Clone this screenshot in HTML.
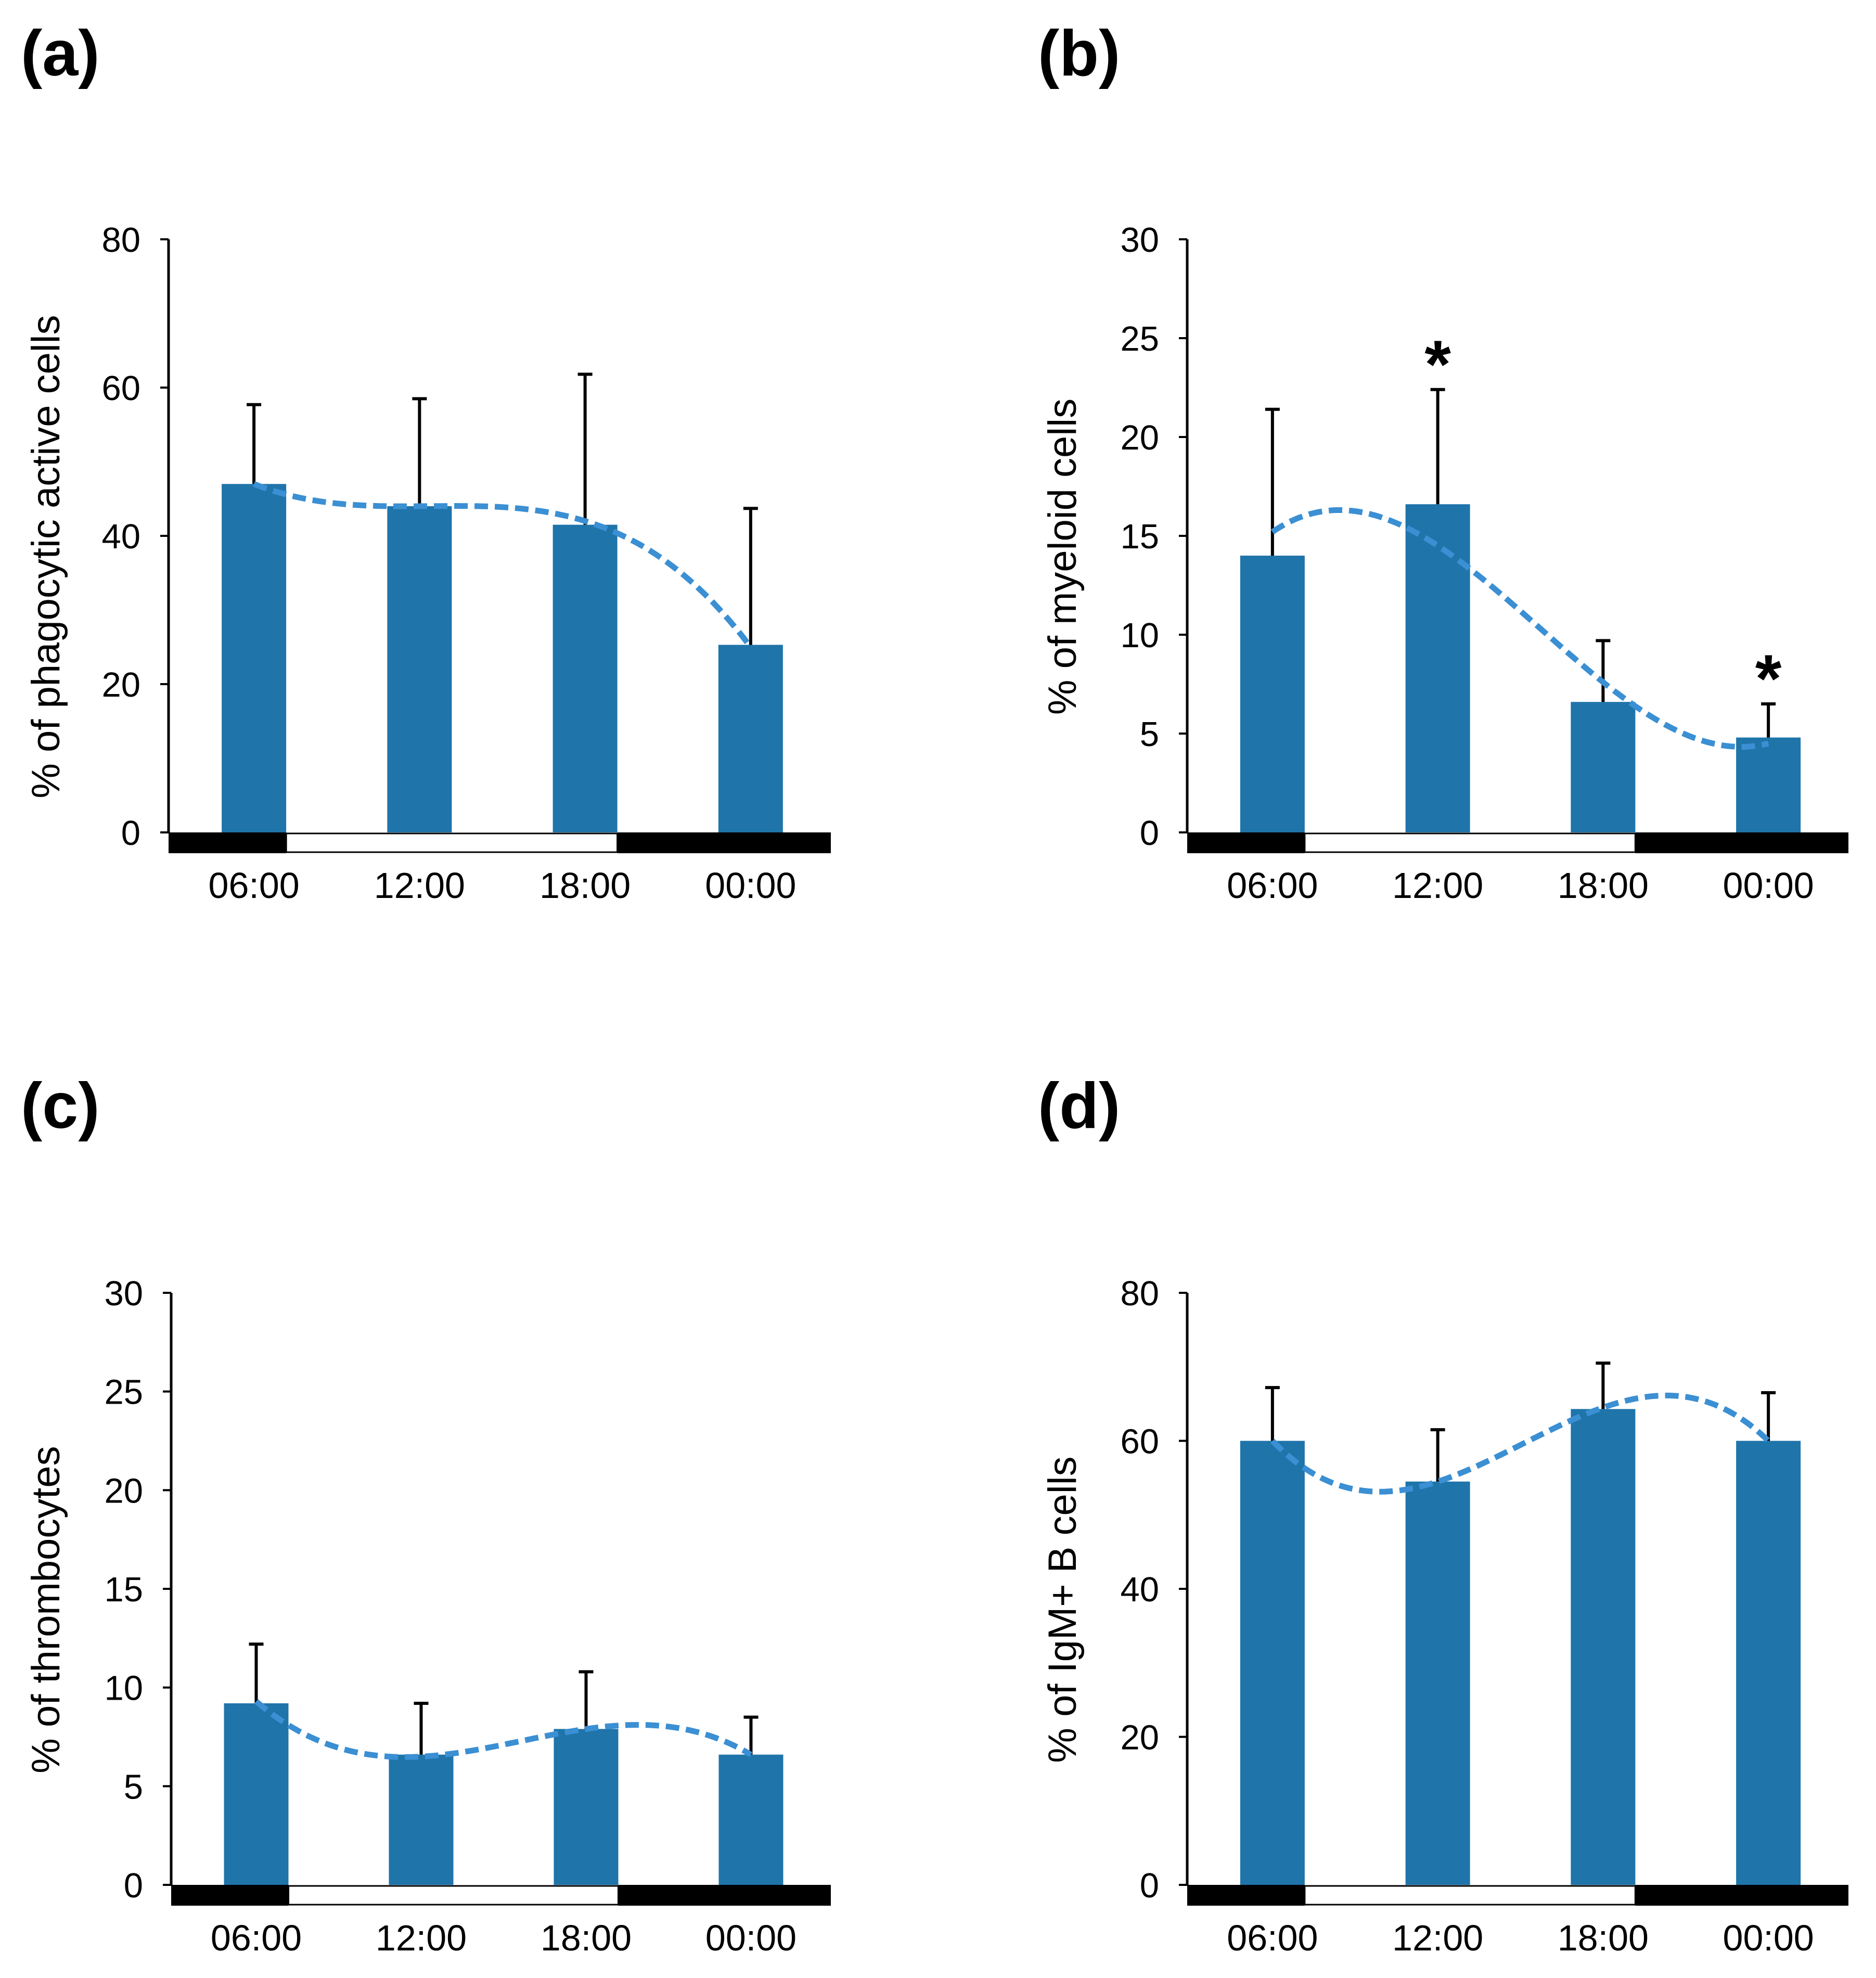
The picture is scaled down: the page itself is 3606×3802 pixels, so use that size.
<!DOCTYPE html>
<html><head><meta charset="utf-8"><style>
html,body{margin:0;padding:0;background:#fff;}
svg{display:block;font-family:"Liberation Sans",Arial,sans-serif;}
</style></head>
<body>
<svg id="fig" width="3606" height="3802" viewBox="0 0 3606 3802" xmlns="http://www.w3.org/2000/svg">
<rect width="3606" height="3802" fill="#fff"/>
</svg>
<script>
const categories = ["06:00","12:00","18:00","00:00"];
const valuesA = [47, 44, 41.5, 25.3];
const errTopA = [57.7, 58.5, 61.8, 43.7];
const trendA = [47, 44, 42, 25];
const valuesB = [14, 16.6, 6.6, 4.8];
const errTopB = [21.4, 22.4, 9.7, 6.5];
const trendB = [15.2, 14.5, 7.6, 4.5];
const valuesC = [9.2, 6.6, 7.9, 6.6];
const errTopC = [12.2, 9.2, 10.8, 8.5];
const trendC = [9.3, 6.5, 7.9, 6.6];
const valuesD = [60, 54.5, 64.3, 60];
const errTopD = [67.2, 61.5, 70.5, 66.5];
const trendD = [60, 54.5, 64.5, 60];
const ticksA = [0,20,40,60,80];
const ticksB = [0,5,10,15,20,25,30];
const ticksC = [0,5,10,15,20,25,30];
const ticksD = [0,20,40,60,80];
const starsB = [false, true, false, true];

const NS = "http://www.w3.org/2000/svg";
const svg = document.getElementById("fig");
function mk(tag, attrs, parent, text){
  const e = document.createElementNS(NS, tag);
  for (const k in attrs) e.setAttribute(k, attrs[k]);
  if (text !== undefined) e.textContent = text;
  (parent || svg).appendChild(e);
  return e;
}

function panel(cfg){
  const g = mk("g", {});
  
  
  const ax = cfg.ax, top = cfg.top, zero = cfg.zero, right = cfg.right;
  const maxV = cfg.ticks[cfg.ticks.length-1];
  const y = v => zero - (v / maxV) * (zero - top);
  const slot = (right - ax) / categories.length;
  const xc = i => ax + 5 + slot * (i + 0.5);
  const bw = 124;

  const lt = mk("text", {x: cfg.lx, y: cfg.ly, "font-size": 124, "font-weight": "bold"}, g, cfg.letter);
  
  

  const yl = mk("line", {x1: ax, y1: top, x2: ax, y2: zero, stroke: "#000", "stroke-width": 5}, g);
  
  
  cfg.ticks.forEach(t => {
    const tk = mk("line", {x1: ax-16, y1: y(t), x2: ax, y2: y(t), stroke: "#000", "stroke-width": 4}, g);
    
    
    const tl = mk("text", {x: ax-54, y: y(t)+24, "font-size": 67, "text-anchor": "end"}, g, String(t));
    
    
  });
  const cy = (top + zero) / 2 + 40;
  const yt = mk("text", {x: cfg.tx, y: cy, "font-size": 76, "text-anchor": "middle", transform: `rotate(-90 ${cfg.tx} ${cy})`}, g, cfg.title);
  
  

  cfg.values.forEach((v, i) => {
    const b = mk("rect", {x: xc(i)-bw/2, y: y(v), width: bw, height: zero - y(v), fill: "#1f74aa"}, g);
    
    
    const e = mk("path", {d: `M${xc(i)} ${y(v)} V${y(cfg.err[i])} M${xc(i)-14} ${y(cfg.err[i])} H${xc(i)+14}`, stroke: "#000", "stroke-width": 6, fill: "none"}, g);
    
    
    if (cfg.stars && cfg.stars[i]) {
      const s = mk("text", {x: xc(i), y: y(cfg.err[i]) - 4, "font-size": 130, "font-weight": "bold", "text-anchor": "middle"}, g, "*");
      
      
    }
  });

  const tr = cfg.trend;
  const f = t => {
    let s = 0;
    for (let j = 0; j < 4; j++) {
      let l = 1;
      for (let k = 0; k < 4; k++) if (k !== j) l *= (t - k) / (j - k);
      s += tr[j] * l;
    }
    return s;
  };
  let d = "";
  for (let n = 0; n <= 120; n++) {
    const t = 3 * n / 120;
    const px = xc(0) + t * slot, py = y(f(t));
    d += (n ? "L" : "M") + px.toFixed(1) + " " + py.toFixed(1);
  }
  const c = mk("path", {d: d, stroke: "#3b8fd3", "stroke-width": 11, fill: "none", "stroke-dasharray": "26 13"}, g);
  
  

  const sh = 40;
  const wStart = xc(0) + bw/2, wEnd = xc(2) + bw/2;
  const d1 = mk("rect", {x: ax, y: zero, width: wStart - ax, height: sh, fill: "#000"}, g);
  
  
  const w1 = mk("rect", {x: wStart, y: zero + 2, width: wEnd - wStart, height: sh - 4, fill: "#fff", stroke: "#000", "stroke-width": 3}, g);
  
  
  const d2 = mk("rect", {x: wEnd, y: zero, width: right - wEnd, height: sh, fill: "#000"}, g);
  
  
  categories.forEach((cat, i) => {
    const xl = mk("text", {x: xc(i), y: zero + 126, "font-size": 70, "text-anchor": "middle"}, g, cat);
    
    
  });
}

panel({name:"panel-a", letter:"(a)", lx:40, ly:145, ax:324, top:460, zero:1600, right:1597, ticks:ticksA, values:valuesA, err:errTopA, trend:trendA, title:"% of phagocytic active cells", tx:114});
panel({name:"panel-b", letter:"(b)", lx:1995, ly:145, ax:2282, top:460, zero:1600, right:3553, ticks:ticksB, values:valuesB, err:errTopB, trend:trendB, stars:starsB, title:"% of myeloid cells", tx:2068});
panel({name:"panel-c", letter:"(c)", lx:40, ly:2168, ax:329, top:2485, zero:3623, right:1597, ticks:ticksC, values:valuesC, err:errTopC, trend:trendC, title:"% of thrombocytes", tx:114});
panel({name:"panel-d", letter:"(d)", lx:1995, ly:2168, ax:2282, top:2485, zero:3623, right:3553, ticks:ticksD, values:valuesD, err:errTopD, trend:trendD, title:"% of IgM+ B cells", tx:2068});
</script>
</body></html>
